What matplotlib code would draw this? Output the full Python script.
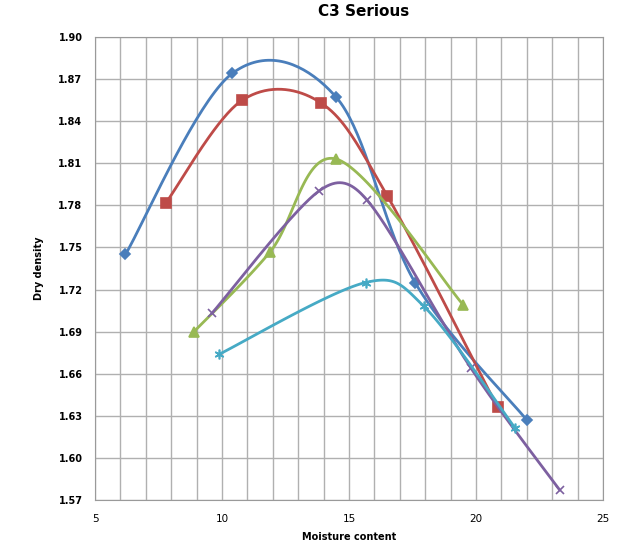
import numpy as np
import matplotlib.pyplot as plt

# data
blue_x = [6.2, 10.4, 14.5, 17.6, 22.0]
blue_y = [1.745, 1.874, 1.857, 1.725, 1.627]
red_x = [7.8, 10.8, 13.9, 16.5, 20.85]
red_y = [1.782, 1.855, 1.853, 1.787, 1.636]
green_x = [8.9, 11.9, 14.5, 19.5]
green_y = [1.690, 1.747, 1.813, 1.709]
purple_x = [9.6, 13.8, 15.7, 19.8, 23.3]
purple_y = [1.703, 1.790, 1.784, 1.664, 1.577]
cyan_x = [9.9, 15.65, 17.95, 21.55]
cyan_y = [1.674, 1.725, 1.708, 1.621]

series = [
    (blue_x, blue_y, '#4A7EBB', 'D', 5),
    (red_x, red_y, '#BE4B48', 's', 7),
    (green_x, green_y, '#98B954', '^', 7),
    (purple_x, purple_y, '#7D60A0', 'x', 6),
    (cyan_x, cyan_y, '#46AAC5', (6, 2, 0), 7),
]

# px per data unit, smoothing is done in screen space like excel
SX = 508 / 20.0
SY = 463 / 0.33


# excel-style smoothed line: bezier with 1/6 tangents, capped at half segment
def smooth(xs, ys, n=40):
    p = np.column_stack([np.array(xs) * SX, np.array(ys) * SY])
    pts = np.vstack([p[0], p, p[-1]])
    out = []
    t = np.linspace(0, 1, n)[:, None]
    for i in range(1, len(pts) - 2):
        p0, p1, p2, p3 = pts[i - 1], pts[i], pts[i + 1], pts[i + 2]
        d12 = np.hypot(*(p2 - p1))
        d02 = np.hypot(*(p2 - p0))
        d13 = np.hypot(*(p3 - p1))
        f1 = 1 / 6
        f2 = 1 / 6
        if d02 / 6 > d12 / 2 and d02 > 0:
            f1 = d12 / 2 / d02
        if d13 / 6 > d12 / 2 and d13 > 0:
            f2 = d12 / 2 / d13
        c1 = p1 + (p2 - p0) * f1
        c2 = p2 - (p3 - p1) * f2
        seg = ((1 - t)**3) * p1 + 3 * ((1 - t)**2) * t * c1 + 3 * (1 - t) * t**2 * c2 + t**3 * p2
        out.append(seg)
    out = np.vstack(out)
    return out[:, 0] / SX, out[:, 1] / SY


fig = plt.figure(figsize=(6.21, 5.51), dpi=100)
ax = fig.add_axes([95 / 621, 1 - 500 / 551, 508 / 621, 463 / 551])

for xs, ys, c, m, ms in series:
    sx, sy = smooth(xs, ys)
    ax.plot(sx, sy, color=c, lw=2.0, solid_capstyle='round')
    ax.plot(xs, ys, ls='none', marker=m, color=c, ms=ms, mew=1.2)

ax.set_xlim(5, 25)
ax.set_ylim(1.57, 1.90)
ax.set_xticks(np.arange(5, 26, 5))
ax.set_xticks(np.arange(5, 26, 1), minor=True)
ax.set_yticks(np.arange(1.57, 1.9001, 0.03))
ax.set_yticklabels(['%.2f' % v for v in np.arange(1.57, 1.9001, 0.03)])
ax.grid(True, which='both', color='#B0B0B0', lw=1.0)
ax.set_axisbelow(True)
for s in ax.spines.values():
    s.set_color('#9A9A9A')
ax.tick_params(which='both', length=0)
ax.tick_params(axis='x', labelsize=7.5, pad=10)
ax.tick_params(axis='y', labelsize=7, pad=9)
for lab in ax.get_yticklabels():
    lab.set_fontweight('bold')

ax.set_xlabel('Moisture content', fontsize=7, fontweight='bold', labelpad=6)
ax.set_ylabel('Dry density', fontsize=7, fontweight='bold', labelpad=10)
fig.text(364 / 621, 1 - 12 / 551, 'C3 Serious', fontsize=11, fontweight='bold',
         ha='center', va='center')

plt.savefig('out.png', dpi=100)
